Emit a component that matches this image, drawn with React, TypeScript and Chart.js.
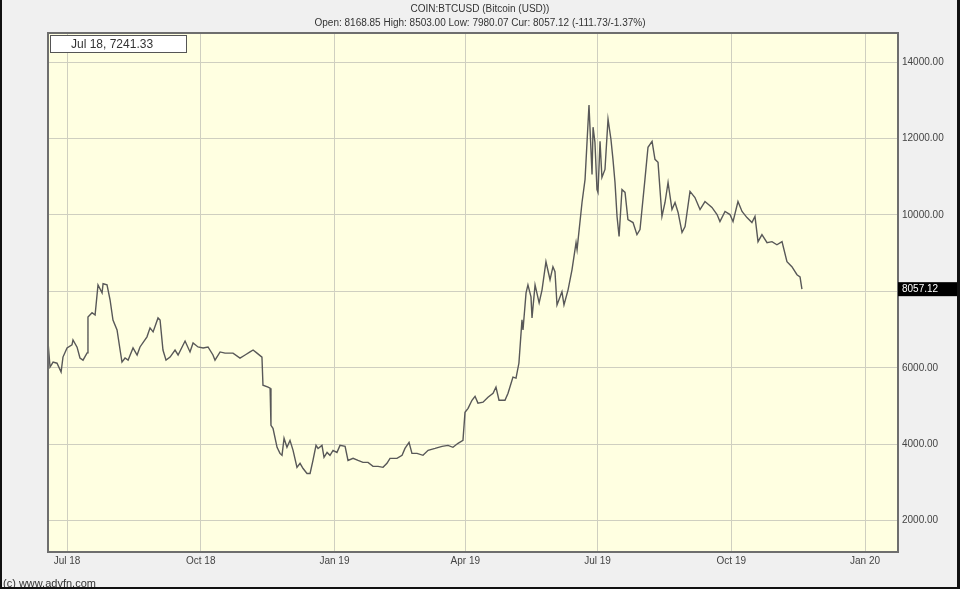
import React, { useEffect, useRef } from "react";
import { Chart, registerables } from "chart.js";

Chart.register(...registerables);

// Days counted from 1 Jul 2018
const dayOffsets = [
  -13.1, -11.7, -9.6, -6.9, -4.1, -2.8, 0, 3.4, 4.1, 6.9, 8.9, 11, 13.8, 14.4, 17.2, 19.3, 21.3, 24.1, 24.8, 27.5,
  29.6, 31.6, 34.4, 36.5, 37.8, 39.9, 42, 45.4, 48.2, 50.2, 55, 57.1, 59.2, 62.6, 64, 66, 68.1, 70.9, 74.3, 76.4,
  81.2, 84.6, 86.7, 90.1, 93.6, 97, 100.4, 101.8, 105.3, 108.7, 114.2, 119, 122.5, 125.9, 128, 130.7, 134.1, 134.8, 138.3, 139.7,
  140.3, 141.7, 144.5, 146.5, 147.9, 149.3, 151.3, 153.4, 155.5, 158.2, 160.3, 162.4, 165.1, 167.2, 169.2, 171.3, 172.7, 175.4, 176.8, 178.9,
  180.9, 183, 185.7, 187.8, 191.3, 193.3, 196.8, 200.2, 203.6, 207.1, 210.5, 214, 217.4, 220.1, 222.2, 227, 230.5, 232.5, 235.3, 237.3,
  240.8, 244.9, 248.4, 253.2, 258, 262.1, 265.5, 269, 272.4, 273.8, 275.9, 278.6, 280.7, 282.7, 286.2, 289.6, 293.1, 295.1, 297.2, 301.3,
  303.4, 306.8, 308.9, 310.9, 313, 313.7, 315.8, 317.1, 319.2, 319.9, 322, 324.8, 326.8, 329.5, 332.3, 334.3, 335.7, 337.1, 340.5, 341.9,
  344.7, 347.4, 350.2, 350.9, 354.3, 356.4, 359.1, 361.2, 361.9, 363.2, 364.6, 365.3, 366.7, 368, 370.1, 372.2, 374.2, 375.6, 377, 378.4,
  379.8, 381.8, 383.9, 385.9, 389.4, 392.1, 394.2, 397.6, 399.7, 402.5, 404.5, 406.6, 409.3, 411.4, 413.5, 416.2, 418.3, 420.4, 423.1, 425.2,
  428.6, 432, 435.5, 438.9, 443.7, 447.2, 449.2, 452.7, 456.1, 458.2, 461.6, 464.4, 467.8, 471.2, 473.3, 475.4, 478.1, 481.6, 485, 488.4,
  491.9, 495.3, 498.7, 502.2, 504.3, 505.6,
];

const prices = [
  6680, 6020, 6150, 6120, 5890, 6280, 6520, 6600, 6730, 6540, 6255, 6200, 6390, 7330, 7440, 7380, 8170, 7960, 8200, 8170,
  7780, 7250, 6990, 6465, 6150, 6255, 6200, 6520, 6335, 6545, 6810, 7045, 6940, 7305, 7250, 6465, 6200, 6280, 6465, 6335,
  6700, 6415, 6650, 6545, 6520, 6545, 6335, 6200, 6415, 6385, 6385, 6255, 6335, 6415, 6465, 6385, 6280, 5545, 5495, 5465,
  4495, 4415, 3920, 3760, 3710, 4155, 3920, 4100, 3840, 3395, 3500, 3365, 3235, 3235, 3575, 3970, 3890, 3970, 3655, 3785,
  3710, 3840, 3785, 3970, 3945, 3575, 3630, 3575, 3525, 3525, 3420, 3420, 3395, 3500, 3630, 3630, 3710, 3890, 4050, 3760,
  3760, 3710, 3840, 3890, 3945, 3970, 3920, 4025, 4100, 4835, 4940, 5150, 5255, 5075, 5100, 5230, 5335, 5495, 5150, 5150,
  5335, 5755, 5730, 6125, 7255, 6990, 7960, 8170, 7855, 7305, 8170, 7700, 8040, 8775, 8305, 8645, 8515, 7645, 7990, 7645,
  8040, 8565, 9275, 9090, 10325, 10930, 12875, 11060, 12295, 11900, 10665, 10590, 11925, 10980, 11190, 12505, 11980, 11455, 10850, 9960,
  9435, 10665, 10590, 9880, 9800, 9485, 9615, 10930, 11770, 11925, 11455, 11375, 9960, 10325, 10850, 10140, 10325, 10065, 9540, 9695,
  10615, 10455, 10140, 10350, 10195, 10010, 9825, 10090, 10010, 9825, 10350, 10090, 9930, 9800, 9960, 9300, 9485, 9275, 9300, 9220,
  9300, 8775, 8645, 8435, 8380, 8057.12,
];

const xTickDays = [0, 92, 184, 274, 365, 457, 549];
const xTickLabels = ["Jul 18", "Oct 18", "Jan 19", "Apr 19", "Jul 19", "Oct 19", "Jan 20"];
const yTickValues = [2000, 4000, 6000, 8000, 10000, 12000, 14000];

const titleText = "COIN:BTCUSD (Bitcoin (USD))";
const quoteText = "Open: 8168.85 High: 8503.00 Low: 7980.07 Cur: 8057.12 (-111.73/-1.37%)";
const cursorLabel = "Jul 18, 7241.33";
const currentPrice = 8057.12;
const copyrightText = "(c) www.advfn.com";

const FONT = "'Liberation Sans', Arial, sans-serif";

const decorPlugin = {
  id: "decor",
  beforeDraw(chart: any) {
    const { ctx, chartArea: a, width, height } = chart;
    ctx.save();
    ctx.fillStyle = "#f0f0f0";
    ctx.fillRect(0, 0, width, height);
    ctx.fillStyle = "#ffffe1";
    ctx.fillRect(a.left, a.top, a.right - a.left, a.bottom - a.top);
    ctx.restore();
  },
  afterDraw(chart: any) {
    const { ctx, chartArea: a, width, height } = chart;
    ctx.save();
    // plot frame
    ctx.strokeStyle = "#6e6e6e";
    ctx.lineWidth = 2;
    ctx.strokeRect(a.left, a.top, a.right - a.left, a.bottom - a.top);

    // header
    ctx.fillStyle = "#333";
    ctx.textAlign = "center";
    ctx.textBaseline = "middle";
    ctx.font = `10px ${FONT}`;
    ctx.fillText(titleText, width / 2, 9);
    ctx.fillText(quoteText, width / 2, 23);

    // cursor box
    ctx.fillStyle = "#ffffff";
    ctx.fillRect(50, 35, 137, 18);
    ctx.strokeStyle = "#555";
    ctx.lineWidth = 1;
    ctx.strokeRect(50.5, 35.5, 136, 17);
    ctx.fillStyle = "#333";
    ctx.textAlign = "left";
    ctx.font = `12px ${FONT}`;
    ctx.fillText(cursorLabel, 71, 44.5);

    // current price tag
    const py = chart.scales.y.getPixelForValue(currentPrice);
    ctx.fillStyle = "#000";
    ctx.fillRect(a.right, py - 7, 59, 14);
    ctx.fillStyle = "#fff";
    ctx.font = `10px ${FONT}`;
    ctx.fillText(currentPrice.toFixed(2), a.right + 4, py);

    // copyright
    ctx.fillStyle = "#333";
    ctx.font = `11px ${FONT}`;
    ctx.textBaseline = "top";
    ctx.fillText(copyrightText, 3, 578);

    // outer frame
    ctx.fillStyle = "#111";
    ctx.fillRect(0, 0, 2, height);
    ctx.fillRect(width - 3, 0, 3, height);
    ctx.fillRect(0, height - 2, width, 2);
    ctx.restore();
  },
};

export default function App() {
  const ref = useRef<HTMLCanvasElement | null>(null);

  useEffect(() => {
    document.body.style.margin = "0";
    const canvas = ref.current;
    if (!canvas) return;
    const chart = new Chart(canvas, {
      type: "line",
      data: {
        datasets: [
          {
            data: dayOffsets.map((d, i) => ({ x: d, y: prices[i] })),
            borderColor: "#585858",
            borderWidth: 1.4,
            pointRadius: 0,
            tension: 0,
            fill: false,
          },
        ],
      },
      options: {
        animation: false,
        responsive: false,
        devicePixelRatio: 1,
        layout: { padding: { left: 48, top: 33, right: 0, bottom: 0 } },
        plugins: { legend: { display: false }, tooltip: { enabled: false } },
        scales: {
          x: {
            type: "linear",
            min: -13.1,
            max: 571.7,
            afterBuildTicks: (scale: any) => {
              scale.ticks = xTickDays.map((v) => ({ value: v }));
            },
            afterFit: (scale: any) => {
              scale.height = 37;
            },
            grid: { color: "#cfcfc0", lineWidth: 1, drawTicks: false },
            border: { display: false },
            ticks: {
              autoSkip: false,
              maxRotation: 0,
              padding: 3,
              color: "#444",
              font: { family: FONT, size: 10 },
              callback: (v: any) => {
                const i = xTickDays.indexOf(Number(v));
                return i >= 0 ? xTickLabels[i] : "";
              },
            },
          },
          y: {
            type: "linear",
            position: "right",
            min: 1180,
            max: 14760,
            afterBuildTicks: (scale: any) => {
              scale.ticks = yTickValues.map((v) => ({ value: v }));
            },
            afterFit: (scale: any) => {
              scale.width = 62;
            },
            grid: { color: "#cfcfc0", lineWidth: 1, drawTicks: false },
            border: { display: false },
            ticks: {
              padding: 4,
              color: "#444",
              font: { family: FONT, size: 10 },
              callback: (v: any) => Number(v).toFixed(2),
            },
          },
        },
      },
      plugins: [decorPlugin],
    });
    return () => chart.destroy();
  }, []);

  return (
    <div style={{ width: 960, height: 589 }}>
      <canvas ref={ref} width={960} height={589} style={{ display: "block", width: 960, height: 589 }} />
    </div>
  );
}
